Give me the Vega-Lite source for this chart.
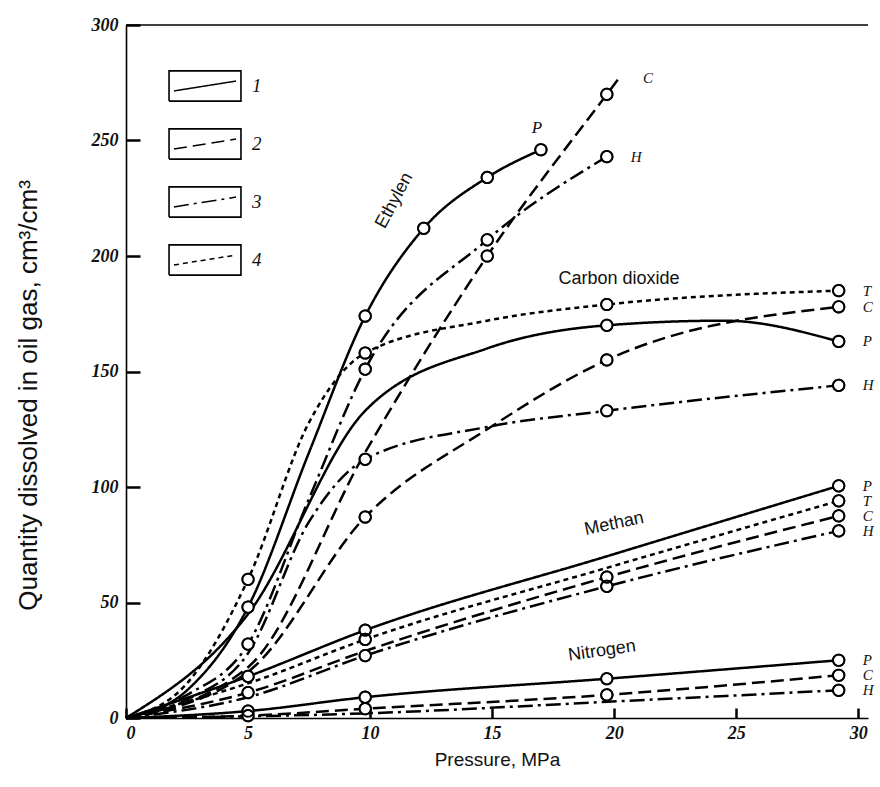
{
  "$schema": "https://vega.github.io/schema/vega-lite/v6.json",
  "width": 742,
  "height": 693,
  "autosize": {"type": "none"},
  "padding": {"left": 126, "top": 25, "right": 12, "bottom": 69},
  "background": "white",
  "config": {
    "view": {"stroke": null},
    "axis": {
      "domainColor": "black", "domainWidth": 1.6, "tickColor": "black", "tickWidth": 2.5,
      "grid": false, "labelFont": "Liberation Serif", "labelFontStyle": "italic", "labelFontWeight": "bold",
      "labelFontSize": 18, "labelColor": "#111", "titleFont": "Liberation Sans", "titleFontWeight": "normal",
      "titleFontSize": 19, "titleColor": "#111"
    },
    "legend": {"padding": 0}
  },
  "datasets": {
    "curves": [
      {"gas": "Ethylen", "oil": "P", "p": 0, "q": 0, "c": 0},
      {"gas": "Ethylen", "oil": "P", "p": 2.5, "q": 12, "c": 0},
      {"gas": "Ethylen", "oil": "P", "p": 5, "q": 48, "c": 1},
      {"gas": "Ethylen", "oil": "P", "p": 7.5, "q": 115, "c": 0},
      {"gas": "Ethylen", "oil": "P", "p": 9.8, "q": 174, "c": 1},
      {"gas": "Ethylen", "oil": "P", "p": 12.2, "q": 212, "c": 1},
      {"gas": "Ethylen", "oil": "P", "p": 14.8, "q": 234, "c": 1},
      {"gas": "Ethylen", "oil": "P", "p": 17, "q": 246, "c": 1, "end": 1},
      {"gas": "Ethylen", "oil": "H", "p": 0, "q": 0, "c": 0},
      {"gas": "Ethylen", "oil": "H", "p": 2.5, "q": 10, "c": 0},
      {"gas": "Ethylen", "oil": "H", "p": 5, "q": 32, "c": 1},
      {"gas": "Ethylen", "oil": "H", "p": 7.5, "q": 95, "c": 0},
      {"gas": "Ethylen", "oil": "H", "p": 9.8, "q": 151, "c": 1},
      {"gas": "Ethylen", "oil": "H", "p": 14.8, "q": 207, "c": 1},
      {"gas": "Ethylen", "oil": "H", "p": 19.7, "q": 243, "c": 1, "end": 1},
      {"gas": "Ethylen", "oil": "C", "p": 0, "q": 0, "c": 0},
      {"gas": "Ethylen", "oil": "C", "p": 5, "q": 22, "c": 0},
      {"gas": "Ethylen", "oil": "C", "p": 9.8, "q": 115, "c": 0},
      {"gas": "Ethylen", "oil": "C", "p": 14.8, "q": 200, "c": 1},
      {"gas": "Ethylen", "oil": "C", "p": 19.7, "q": 270, "c": 1},
      {"gas": "Ethylen", "oil": "C", "p": 20.2, "q": 277, "c": 0, "end": 1},
      {"gas": "Carbon dioxide", "oil": "T", "p": 0, "q": 0, "c": 0},
      {"gas": "Carbon dioxide", "oil": "T", "p": 2.5, "q": 15, "c": 0},
      {"gas": "Carbon dioxide", "oil": "T", "p": 5, "q": 60, "c": 1},
      {"gas": "Carbon dioxide", "oil": "T", "p": 7.5, "q": 128, "c": 0},
      {"gas": "Carbon dioxide", "oil": "T", "p": 9.8, "q": 158, "c": 1},
      {"gas": "Carbon dioxide", "oil": "T", "p": 14.8, "q": 172, "c": 0},
      {"gas": "Carbon dioxide", "oil": "T", "p": 19.7, "q": 179, "c": 1},
      {"gas": "Carbon dioxide", "oil": "T", "p": 29.2, "q": 185, "c": 1, "end": 1},
      {"gas": "Carbon dioxide", "oil": "P", "p": 0, "q": 0, "c": 0},
      {"gas": "Carbon dioxide", "oil": "P", "p": 5, "q": 45, "c": 0},
      {"gas": "Carbon dioxide", "oil": "P", "p": 9.8, "q": 133, "c": 0},
      {"gas": "Carbon dioxide", "oil": "P", "p": 14.8, "q": 160, "c": 0},
      {"gas": "Carbon dioxide", "oil": "P", "p": 19.7, "q": 170, "c": 1},
      {"gas": "Carbon dioxide", "oil": "P", "p": 24.5, "q": 172, "c": 0},
      {"gas": "Carbon dioxide", "oil": "P", "p": 29.2, "q": 163, "c": 1, "end": 1},
      {"gas": "Carbon dioxide", "oil": "H", "p": 0, "q": 0, "c": 0},
      {"gas": "Carbon dioxide", "oil": "H", "p": 2.5, "q": 8, "c": 0},
      {"gas": "Carbon dioxide", "oil": "H", "p": 5, "q": 28, "c": 0},
      {"gas": "Carbon dioxide", "oil": "H", "p": 7.5, "q": 85, "c": 0},
      {"gas": "Carbon dioxide", "oil": "H", "p": 9.8, "q": 112, "c": 1},
      {"gas": "Carbon dioxide", "oil": "H", "p": 14.8, "q": 126, "c": 0},
      {"gas": "Carbon dioxide", "oil": "H", "p": 19.7, "q": 133, "c": 1},
      {"gas": "Carbon dioxide", "oil": "H", "p": 29.2, "q": 144, "c": 1, "end": 1},
      {"gas": "Carbon dioxide", "oil": "C", "p": 0, "q": 0, "c": 0},
      {"gas": "Carbon dioxide", "oil": "C", "p": 5, "q": 20, "c": 0},
      {"gas": "Carbon dioxide", "oil": "C", "p": 9.8, "q": 87, "c": 1},
      {"gas": "Carbon dioxide", "oil": "C", "p": 14.8, "q": 125, "c": 0},
      {"gas": "Carbon dioxide", "oil": "C", "p": 19.7, "q": 155, "c": 1},
      {"gas": "Carbon dioxide", "oil": "C", "p": 29.2, "q": 178, "c": 1, "end": 1},
      {"gas": "Methan", "oil": "P", "p": 0, "q": 0, "c": 0},
      {"gas": "Methan", "oil": "P", "p": 5, "q": 18, "c": 1},
      {"gas": "Methan", "oil": "P", "p": 9.8, "q": 38, "c": 1},
      {"gas": "Methan", "oil": "P", "p": 19.7, "q": 70, "c": 0},
      {"gas": "Methan", "oil": "P", "p": 29.2, "q": 100.5, "c": 1, "end": 1},
      {"gas": "Methan", "oil": "T", "p": 0, "q": 0, "c": 0},
      {"gas": "Methan", "oil": "T", "p": 5, "q": 15, "c": 0},
      {"gas": "Methan", "oil": "T", "p": 9.8, "q": 34, "c": 1},
      {"gas": "Methan", "oil": "T", "p": 19.7, "q": 65, "c": 0},
      {"gas": "Methan", "oil": "T", "p": 29.2, "q": 94, "c": 1, "end": 1},
      {"gas": "Methan", "oil": "C", "p": 0, "q": 0, "c": 0},
      {"gas": "Methan", "oil": "C", "p": 5, "q": 11, "c": 1},
      {"gas": "Methan", "oil": "C", "p": 9.8, "q": 29, "c": 0},
      {"gas": "Methan", "oil": "C", "p": 19.7, "q": 61, "c": 1},
      {"gas": "Methan", "oil": "C", "p": 29.2, "q": 87.5, "c": 1, "end": 1},
      {"gas": "Methan", "oil": "H", "p": 0, "q": 0, "c": 0},
      {"gas": "Methan", "oil": "H", "p": 5, "q": 9, "c": 0},
      {"gas": "Methan", "oil": "H", "p": 9.8, "q": 27, "c": 1},
      {"gas": "Methan", "oil": "H", "p": 19.7, "q": 57, "c": 1},
      {"gas": "Methan", "oil": "H", "p": 29.2, "q": 81, "c": 1, "end": 1},
      {"gas": "Nitrogen", "oil": "P", "p": 0, "q": 0, "c": 0},
      {"gas": "Nitrogen", "oil": "P", "p": 5, "q": 3, "c": 1},
      {"gas": "Nitrogen", "oil": "P", "p": 9.8, "q": 9, "c": 1},
      {"gas": "Nitrogen", "oil": "P", "p": 19.7, "q": 17, "c": 1},
      {"gas": "Nitrogen", "oil": "P", "p": 29.2, "q": 25, "c": 1, "end": 1},
      {"gas": "Nitrogen", "oil": "C", "p": 0, "q": 0, "c": 0},
      {"gas": "Nitrogen", "oil": "C", "p": 5, "q": 1, "c": 1},
      {"gas": "Nitrogen", "oil": "C", "p": 9.8, "q": 4, "c": 1},
      {"gas": "Nitrogen", "oil": "C", "p": 19.7, "q": 10, "c": 1},
      {"gas": "Nitrogen", "oil": "C", "p": 29.2, "q": 18.5, "c": 1, "end": 1},
      {"gas": "Nitrogen", "oil": "H", "p": 0, "q": 0, "c": 0},
      {"gas": "Nitrogen", "oil": "H", "p": 9.8, "q": 2, "c": 0},
      {"gas": "Nitrogen", "oil": "H", "p": 19.7, "q": 7, "c": 0},
      {"gas": "Nitrogen", "oil": "H", "p": 29.2, "q": 12, "c": 1, "end": 1}
    ],
    "names": [
      {"name": "Ethylen", "p": 11.0, "q": 224, "angle": -62},
      {"name": "Carbon dioxide", "p": 20.2, "q": 190, "angle": 0},
      {"name": "Methan", "p": 20.0, "q": 84, "angle": -12},
      {"name": "Nitrogen", "p": 19.5, "q": 29, "angle": -8}
    ]
  },
  "layer": [
    {
      "data": {"values": [{"q": 300}]},
      "mark": {"type": "rule", "color": "black", "strokeWidth": 1.6},
      "encoding": {"y": {"field": "q", "type": "quantitative", "scale": {"domain": [0, 300], "nice": false}}}
    },
    {
      "data": {"name": "curves"},
      "mark": {"type": "line", "interpolate": "monotone", "color": "black", "strokeWidth": 2.5},
      "encoding": {
        "x": {"field": "p", "type": "quantitative",
          "scale": {"domain": [0, 30.4], "nice": false, "zero": false},
          "axis": {"values": [0, 5, 10, 15, 20, 25, 30], "tickSize": -10, "labelPadding": 16, "title": "Pressure, MPa", "titlePadding": 8}},
        "y": {"field": "q", "type": "quantitative",
          "scale": {"domain": [0, 300], "nice": false},
          "axis": {"values": [0, 50, 100, 150, 200, 250, 300], "tickSize": -14, "labelPadding": 22, "title": "Quantity dissolved in oil gas, cm³/cm³",
            "titleFontSize": 26, "titleX": -98, "titleY": 370, "titleAngle": -90, "titleAlign": "center", "titleBaseline": "middle"}},
        "detail": {"field": "gas"},
        "strokeDash": {"field": "oil", "type": "nominal",
          "scale": {"domain": ["P", "C", "H", "T"], "range": [[1, 0], [13, 6], [15, 5, 3, 5], [5, 4]]},
          "legend": {"orient": "none", "legendX": 49, "legendY": 31, "title": null,
            "symbolType": "M-1.24,-0.52M1.24,0.52M-1.07,0.17L1.07,-0.17", "symbolSize": 3364, "rowPadding": 9,
            "labelExpr": "datum.value == 'P' ? '1' : datum.value == 'C' ? '2' : datum.value == 'H' ? '3' : '4'",
            "labelFont": "Liberation Serif", "labelFontStyle": "italic", "labelFontSize": 19, "labelColor": "#111", "labelOffset": 17,
            "encode": {"symbols": {"update": {"fill": {"value": "transparent"}, "stroke": {"value": "black"}, "strokeWidth": {"value": 2.9}, "opacity": {"value": 1}}}}}}
      }
    },
    {
      "data": {"name": "curves"},
      "transform": [{"filter": "datum.c == 1"}],
      "mark": {"type": "point", "shape": "circle", "filled": false, "fill": "white", "fillOpacity": 1, "color": "black", "opacity": 1, "size": 130, "strokeWidth": 1.8},
      "encoding": {
        "x": {"field": "p", "type": "quantitative"},
        "y": {"field": "q", "type": "quantitative"}
      }
    },
    {
      "data": {"name": "curves"},
      "transform": [{"filter": "datum.c == 1"}],
      "mark": {"type": "point", "shape": "circle", "filled": false, "color": "black", "opacity": 1, "size": 130, "strokeWidth": 1.8},
      "encoding": {
        "x": {"field": "p", "type": "quantitative"},
        "y": {"field": "q", "type": "quantitative"},
        "strokeDash": {"field": "oil", "type": "nominal",
          "scale": {"domain": ["P", "C", "H", "T"], "range": [[1, 0], [1, 0], [1, 0], [1, 0]]},
          "legend": {"orient": "none", "legendX": 49, "legendY": 31, "title": null,
            "symbolType": "M-1.24,-0.52H1.24V0.52H-1.24Z", "symbolSize": 3364, "rowPadding": 9,
            "symbolFillColor": "transparent", "symbolStrokeColor": "black", "symbolStrokeWidth": 1.6,
            "labelExpr": "'1'", "labelFont": "Liberation Serif", "labelFontSize": 19, "labelOffset": 17, "labelOpacity": 0,
            "encode": {"symbols": {"update": {"fill": {"value": "transparent"}, "fillOpacity": {"value": 0}, "stroke": {"value": "black"}, "strokeWidth": {"value": 1.6}, "opacity": {"value": 1}}}}}}
      }
    },
    {
      "data": {"name": "curves"},
      "transform": [{"filter": "datum.end == 1 && !(datum.gas == 'Ethylen' && datum.oil == 'P')"}],
      "mark": {"type": "text", "align": "left", "dx": 24, "font": "Liberation Serif", "fontStyle": "italic", "fontSize": 15, "color": "#111"},
      "encoding": {"x": {"field": "p", "type": "quantitative"}, "y": {"field": "q", "type": "quantitative"}, "text": {"field": "oil"}}
    },
    {
      "data": {"name": "curves"},
      "transform": [{"filter": "datum.end == 1 && datum.gas == 'Ethylen' && datum.oil == 'P'"}],
      "mark": {"type": "text", "align": "center", "dy": -22, "dx": -4, "font": "Liberation Serif", "fontStyle": "italic", "fontSize": 17, "color": "#111"},
      "encoding": {"x": {"field": "p", "type": "quantitative"}, "y": {"field": "q", "type": "quantitative"}, "text": {"field": "oil"}}
    },
    {
      "data": {"name": "names"},
      "mark": {"type": "text", "font": "Liberation Sans", "fontSize": 18, "color": "#111"},
      "encoding": {"x": {"field": "p", "type": "quantitative"}, "y": {"field": "q", "type": "quantitative"}, "text": {"field": "name"}, "angle": {"field": "angle", "type": "quantitative", "scale": null}}
    }
  ],
  "resolve": {"scale": {"strokeDash": "independent"}, "legend": {"strokeDash": "independent"}}
}
